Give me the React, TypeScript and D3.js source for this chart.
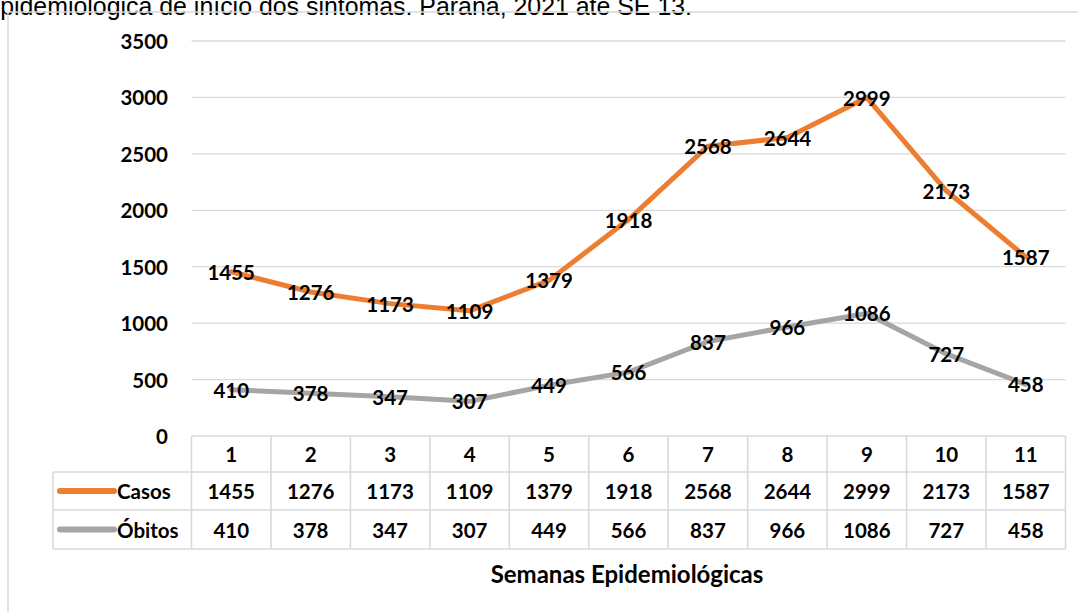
import * as d3 from "d3";

const weeks = ["1", "2", "3", "4", "5", "6", "7", "8", "9", "10", "11"];
const casos = [1455, 1276, 1173, 1109, 1379, 1918, 2568, 2644, 2999, 2173, 1587];
const obitos = [410, 378, 347, 307, 449, 566, 837, 966, 1086, 727, 458];
const yTicks = [0, 500, 1000, 1500, 2000, 2500, 3000, 3500];

const W = 1078;
const H = 612;
const FONT = "Lato, 'Open Sans', sans-serif";
const GRID = "#d9d9d9";
const FS = 20.5;

const series = [
  { name: "Casos", values: casos, color: "#ED7D31" },
  { name: "Óbitos", values: obitos, color: "#A5A5A5" },
];

export default function App() {
  const x = d3.scaleBand<string>().domain(weeks).range([191.5, 1065.5]);
  const y = d3.scaleLinear().domain([0, 3500]).range([436, 41]);
  const cx = (w: string) => (x(w) as number) + x.bandwidth() / 2;

  const line = d3
    .line<number>()
    .x((_, i) => cx(weeks[i]))
    .y((d) => y(d));

  const rowTop = [436, 472, 510, 549];
  const rowMid = [454, 491, 529.5];
  const tableLeft = 53;
  const x0 = x.range()[0];
  const x1 = x.range()[1];

  return (
    <svg
      width={W}
      height={H}
      style={{ position: "absolute", left: 0, top: 0, background: "#fff" }}
      fontFamily={FONT}
    >
      {/* title is clipped by the page edge in the source image */}
      <text
        x={692}
        y={15}
        textAnchor="end"
        fontFamily="'Liberation Sans', Arial, sans-serif"
        fontSize={24.9}
        fill="#000"
      >
        Semana epidemiológica de início dos sintomas. Paraná, 2021 até SE 13.
      </text>
      <rect x={8} y={12} width={W} height={H} fill="none" stroke={GRID} strokeWidth={1.5} />

      {/* gridlines + y labels */}
      {yTicks.map((t) => (
        <g key={t}>
          {t > 0 && (
            <line x1={x0} x2={x1} y1={y(t)} y2={y(t)} stroke={GRID} strokeWidth={1.3} />
          )}
          <text
            x={168}
            y={y(t)}
            textAnchor="end"
            dominantBaseline="central"
            fontWeight="bold"
            fontSize={FS}
          >
            {t}
          </text>
        </g>
      ))}

      {/* data table */}
      <g stroke={GRID} strokeWidth={1.6} fill="none">
        <line x1={x0} x2={x1} y1={rowTop[0]} y2={rowTop[0]} />
        {rowTop.slice(1).map((r) => (
          <line key={r} x1={tableLeft} x2={x1} y1={r} y2={r} />
        ))}
        <line x1={tableLeft} x2={tableLeft} y1={rowTop[1]} y2={rowTop[3]} />
        {weeks.map((w) => (
          <line key={w} x1={x(w)} x2={x(w)} y1={rowTop[0]} y2={rowTop[3]} />
        ))}
        <line x1={x1} x2={x1} y1={rowTop[0]} y2={rowTop[3]} />
      </g>
      {weeks.map((w) => (
        <text
          key={w}
          x={cx(w)}
          y={rowMid[0]}
          textAnchor="middle"
          dominantBaseline="central"
          fontWeight="bold"
          fontSize={FS}
        >
          {w}
        </text>
      ))}
      {series.map((s, si) => (
        <g key={s.name}>
          <line
            x1={60}
            x2={114}
            y1={rowMid[si + 1]}
            y2={rowMid[si + 1]}
            stroke={s.color}
            strokeWidth={6}
            strokeLinecap="round"
          />
          <text x={117} y={rowMid[si + 1]} dominantBaseline="central" fontWeight="bold" fontSize={FS}>
            {s.name}
          </text>
          {s.values.map((v, i) => (
            <text
              key={i}
              x={cx(weeks[i])}
              y={rowMid[si + 1]}
              textAnchor="middle"
              dominantBaseline="central"
              fontWeight="bold"
              fontSize={FS}
            >
              {v}
            </text>
          ))}
        </g>
      ))}

      {/* lines */}
      {series.map((s) => (
        <path
          key={s.name}
          d={line(s.values) as string}
          fill="none"
          stroke={s.color}
          strokeWidth={5}
          strokeLinejoin="round"
          strokeLinecap="round"
        />
      ))}
      {series.map((s) =>
        s.values.map((v, i) => (
          <text
            key={s.name + i}
            x={cx(weeks[i])}
            y={y(v)}
            textAnchor="middle"
            dominantBaseline="central"
            fontWeight="bold"
            fontSize={FS}
          >
            {v}
          </text>
        ))
      )}

      <text
        x={627}
        y={573}
        textAnchor="middle"
        dominantBaseline="central"
        fontWeight="bold"
        fontSize={24}
      >
        Semanas Epidemiológicas
      </text>
    </svg>
  );
}
